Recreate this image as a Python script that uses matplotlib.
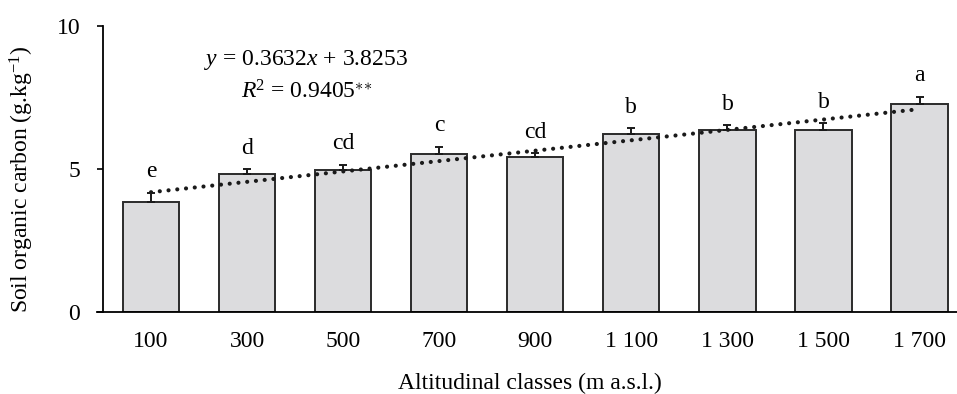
import numpy as np
import matplotlib
matplotlib.use('Agg')
import matplotlib.pyplot as plt

plt.rcParams['font.family'] = 'Liberation Serif'
plt.rcParams['mathtext.fontset'] = 'custom'
plt.rcParams['mathtext.rm'] = 'Liberation Serif'
plt.rcParams['mathtext.it'] = 'Liberation Serif:italic'

# altitude classes and soil organic carbon (g/kg)
classes = ['100', '300', '500', '700', '900', '1 100', '1 300', '1 500', '1 700']
soc = [3.86, 4.81, 4.98, 5.51, 5.41, 6.21, 6.35, 6.35, 7.28]
err = [0.31, 0.18, 0.17, 0.27, 0.14, 0.21, 0.18, 0.25, 0.25]
letters = ['e', 'd', 'cd', 'c', 'cd', 'b', 'b', 'b', 'a']
slope = 0.3632
intercept = 3.8253

fs = 17

fig = plt.figure(figsize=(9.57, 3.94), dpi=100)
ax = fig.add_axes([103/957, 82/394, 1 - 103/957, 286/394])

x = np.arange(len(classes))
ax.bar(x, soc, width=0.585, color='#dcdcde', edgecolor='#2b2b2b', linewidth=1.4, zorder=2)
ax.errorbar(x, soc, yerr=[np.zeros(len(err)), err], fmt='none', ecolor='#1a1a1a',
            elinewidth=1.4, capsize=3.2, capthick=1.4, zorder=3)

# linear trend, x counted from 1
xt = np.array([0, len(classes) - 1])
ax.plot(xt, slope * (xt + 1) + intercept, color='#1a1a1a', linewidth=3.0,
        linestyle=(0, (0.01, 2.1)), dash_capstyle='round', zorder=4)

for i in range(len(classes)):
    ax.annotate(letters[i], (x[i], soc[i] + err[i]), xytext=(0, 11), textcoords='offset points',
                ha='center', va='baseline', fontsize=fs)

ax.text(1.61, 8.81, '$y$ = 0.3632$x$ + 3.8253', ha='center', va='center', fontsize=fs)
ax.text(1.62, 7.69, r'$R$$^{2}$ = 0.9405$^{\ast\!\ast}$', ha='center', va='center', fontsize=fs)

ax.set_xlim(-0.5, 8.39)
ax.set_ylim(0, 10)
ax.set_yticks([0, 5, 10])
ax.set_xticks(x)
ax.set_xticklabels(classes)
ax.tick_params(axis='x', length=0, pad=14, labelsize=fs)
ax.tick_params(axis='y', length=4.5, width=1.2, pad=12, labelsize=fs, direction='out')
for s in ['top', 'right']:
    ax.spines[s].set_visible(False)
ax.spines['left'].set_linewidth(1.3)
ax.spines['bottom'].set_linewidth(1.3)
ax.spines['bottom'].set_bounds(-0.56, 8.39)

ax.set_xlabel('Altitudinal classes (m a.s.l.)', fontsize=fs, labelpad=15)
ax.set_ylabel('Soil organic carbon (g.kg$^{−1}$)', fontsize=fs)
ax.yaxis.set_label_coords(-0.078, 0.465)

fig.savefig('out.png', dpi=100)
